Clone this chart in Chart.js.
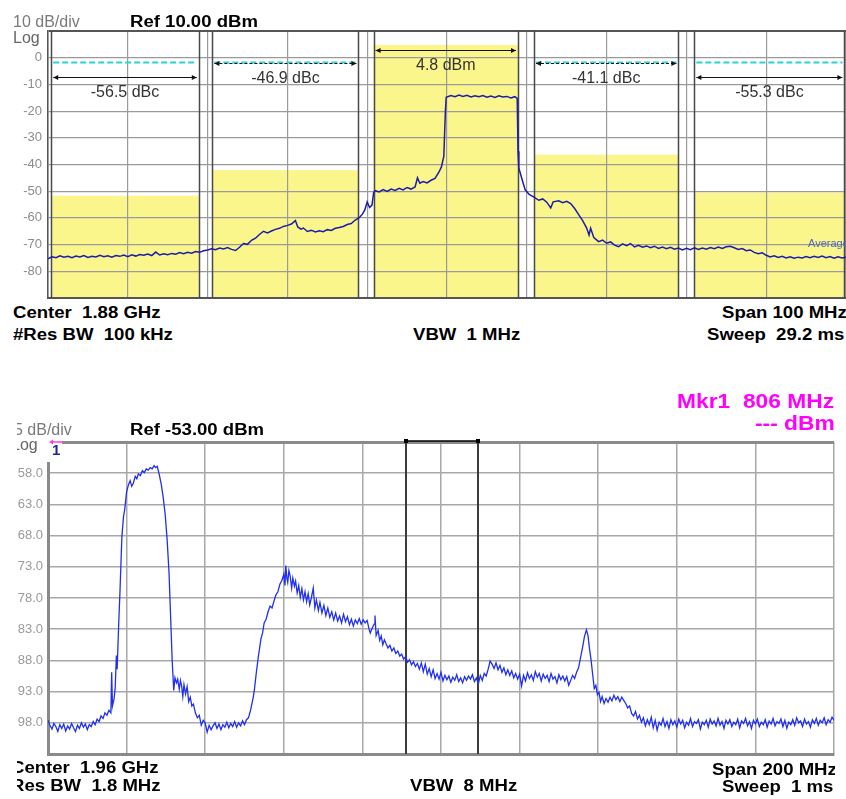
<!DOCTYPE html>
<html>
<head>
<meta charset="utf-8">
<script src="https://cdn.jsdelivr.net/npm/chart.js"></script>
<style>
  body { margin: 0; width: 846px; height: 799px; overflow: hidden; background: #fff; position: relative;
         font-family: "Liberation Sans", Arial, sans-serif; }
  .t { position: absolute; white-space: pre; line-height: 1; }
  .b { font-weight: bold; font-size: 16px; color: #000; transform: scaleX(1.16); transform-origin: left top; }
  .g { font-size: 16px; color: #7a7a7a; }
  .m { font-weight: bold; font-size: 20px; color: #ff00ff; transform: scaleX(1.14); transform-origin: left top; }
  #c1 { position: absolute; left: 0; top: 0; }
  #bot { position: absolute; left: 17px; top: 380px; width: 818px; height: 419px; overflow: hidden; }
  #c2 { position: absolute; left: -17px; top: 0; }
</style>
</head>
<body>
<canvas id="c1" width="846" height="300"></canvas>
<div class="t g" style="left:13px;top:13.5px">10 dB/div</div>
<div class="t b" style="left:130px;top:13.5px">Ref 10.00 dBm</div>
<div class="t g" style="left:13px;top:29.5px;color:#666">Log</div>
<div class="t b" style="left:12.5px;top:304.5px">Center  1.88 GHz</div>
<div class="t b" style="left:12.5px;top:326.5px">#Res BW  100 kHz</div>
<div class="t b" style="left:413px;top:326.5px">VBW  1 MHz</div>
<div class="t b" style="left:722px;top:304.5px">Span 100 MHz</div>
<div class="t b" style="left:707px;top:326.5px">Sweep  29.2 ms</div>

<div id="bot">
  <canvas id="c2" width="846" height="419"></canvas>
  <div class="t m" style="left:660px;top:11px">Mkr1  806 MHz</div>
  <div class="t m" style="left:738px;top:33px">--- dBm</div>
  <div class="t g" style="left:-3px;top:41.5px">5 dB/div</div>
  <div class="t b" style="left:113px;top:41.5px">Ref -53.00 dBm</div>
  <div class="t g" style="left:-6px;top:56.5px;color:#666">Log</div>
  <div class="t b" style="left:-6.5px;top:379.5px">Center  1.96 GHz</div>
  <div class="t b" style="left:-6.5px;top:397.5px">Res BW  1.8 MHz</div>
  <div class="t b" style="left:393px;top:397.5px">VBW  8 MHz</div>
  <div class="t b" style="left:695px;top:381.5px">Span 200 MHz</div>
  <div class="t b" style="left:705px;top:398.5px">Sweep  1 ms</div>
</div>

<script>
// ---- upper trace: ACP measurement, 1830..1930 MHz ----
const topFreq = [
  1830.0, 1830.5, 1831.0, 1831.5, 1832.0, 1832.5, 1833.0, 1833.5, 1834.0, 1834.5,
  1835.0, 1835.5, 1836.0, 1836.5, 1837.0, 1837.5, 1838.0, 1838.5, 1839.0, 1839.5,
  1840.0, 1840.5, 1841.0, 1841.5, 1842.0, 1842.5, 1843.0, 1843.5, 1844.0, 1844.5,
  1845.0, 1845.5, 1846.0, 1846.5, 1847.0, 1847.5, 1848.0, 1848.5, 1849.0, 1849.5,
  1850.0, 1850.5, 1851.0, 1851.5, 1852.0, 1852.5, 1853.0, 1853.5, 1854.0, 1854.5,
  1855.0, 1855.5, 1856.0, 1856.5, 1857.0, 1857.5, 1858.0, 1858.5, 1859.0, 1859.5,
  1860.0, 1860.5, 1861.0, 1861.3, 1861.7, 1862.0, 1862.5, 1863.0, 1863.5, 1864.0,
  1864.5, 1865.0, 1865.5, 1866.0, 1866.5, 1867.0, 1867.5, 1868.0, 1868.5, 1869.0,
  1869.4, 1869.7, 1870.0, 1870.3, 1870.6, 1870.8, 1871.0, 1871.5, 1872.0, 1872.5,
  1873.0, 1873.5, 1874.0, 1874.5, 1875.0, 1875.5, 1876.0, 1876.3, 1876.6, 1877.0,
  1877.5, 1878.0, 1878.5, 1879.0, 1879.3, 1879.6, 1879.8, 1879.9, 1880.5, 1881.0,
  1881.5, 1882.0, 1882.5, 1883.0, 1883.5, 1884.0, 1884.5, 1885.0, 1885.5, 1886.0,
  1886.5, 1887.0, 1887.5, 1888.0, 1888.5, 1888.8, 1888.9, 1889.0, 1889.4, 1889.8,
  1890.3, 1890.9, 1891.5, 1892.0, 1892.5, 1893.0, 1893.3, 1894.0, 1894.5, 1895.0,
  1895.5, 1896.0, 1896.5, 1897.0, 1897.5, 1897.8, 1898.0, 1898.4, 1899.0, 1899.5,
  1900.0, 1900.5, 1901.0, 1901.5, 1902.0, 1902.5, 1903.0, 1903.5, 1904.0, 1904.5,
  1905.0, 1905.5, 1906.0, 1906.5, 1907.0, 1907.5, 1908.0, 1908.5, 1909.0, 1909.5,
  1910.0, 1910.5, 1911.0, 1911.5, 1912.0, 1912.5, 1913.0, 1913.5, 1914.0, 1914.5,
  1915.0, 1915.5, 1916.0, 1916.5, 1917.0, 1917.5, 1918.0, 1918.5, 1919.0, 1919.5,
  1920.0, 1920.5, 1921.0, 1921.5, 1922.0, 1922.5, 1923.0, 1923.5, 1924.0, 1924.5,
  1925.0, 1925.5, 1926.0, 1926.5, 1927.0, 1927.5, 1928.0, 1928.5, 1929.0, 1929.5,
  1930.0
];
const topLevel = [
  -75.3, -74.6, -74.9, -74.2, -74.7, -74.4, -74.9, -74.3, -74.6, -74.1,
  -74.8, -74.4, -74.6, -74.0, -74.5, -74.2, -74.7, -74.1, -74.4, -73.9,
  -74.5, -73.8, -74.3, -73.7, -74.0, -73.5, -74.1, -72.8, -73.9, -73.4,
  -73.8, -73.3, -73.6, -73.0, -73.4, -72.9, -73.2, -72.6, -72.9, -72.3,
  -72.0, -71.6, -71.9, -71.3, -71.6, -71.1, -71.8, -72.2, -71.0, -69.6,
  -69.9, -68.4, -67.6, -66.2, -65.0, -65.6, -64.9, -64.3, -63.9, -63.2,
  -62.8, -62.3, -61.0, -63.4, -64.2, -63.8, -65.1, -64.6, -65.3, -64.8,
  -65.2, -64.4, -64.7, -63.9, -63.6, -63.2, -62.5, -62.1, -60.8, -59.9,
  -58.6, -57.0, -54.0, -56.1, -55.2, -50.6, -49.8, -50.3, -49.4, -50.1,
  -49.2, -49.7, -48.9, -49.5, -48.6, -49.2, -48.4, -45.0, -47.0, -46.4,
  -46.9, -45.9, -45.2, -42.8, -40.9, -37.0, -20.0, -14.8, -14.2, -14.6,
  -14.0, -14.5, -14.1, -14.7, -14.3, -14.6, -14.2, -14.8, -14.4, -14.9,
  -14.3, -14.7, -14.5, -15.1, -14.6, -15.2, -35.0, -41.3, -45.5, -49.5,
  -51.2, -52.2, -53.4, -52.9, -54.1, -56.3, -54.0, -53.6, -54.3, -53.8,
  -54.6, -56.5, -58.8, -61.0, -63.8, -66.4, -63.9, -67.4, -68.9, -68.3,
  -69.5, -69.0, -70.2, -70.8, -69.7, -70.4, -69.6, -70.9, -70.3, -71.0,
  -70.5, -71.2, -70.6, -71.4, -70.9, -71.5, -71.0, -71.7, -71.3, -72.0,
  -71.4, -71.9, -71.2, -71.8, -71.3, -71.7, -71.1, -71.5, -70.9, -71.4,
  -70.8, -70.6, -71.2, -71.8, -71.5, -72.3, -72.0, -72.9, -73.4, -73.1,
  -74.0, -74.6, -74.2, -74.8, -74.4, -75.0, -74.6, -75.1, -74.7, -75.0,
  -74.5, -74.9, -74.4, -74.8, -74.3, -74.9, -74.5, -75.1, -74.6, -75.0,
  -74.7
];

// channels of the ACP measurement (MHz) and their measured powers
const chStart = [1830.4, 1850.6, 1870.8, 1890.9, 1911.0];
const chEnd = [1848.9, 1868.9, 1888.9, 1909.0, 1929.8];
const chLevel = [-51.7, -42.1, 4.8, -36.3, -50.5];
const chLabel = ['-56.5 dBc', '-46.9 dBc', '4.8 dBm', '-41.1 dBc', '-55.3 dBc'];
const arrowLevel = [-7.4, -1.8, 2.9, -1.8, -7.4];
const limitLevel = -1.8;
const topTickLabels = ['0', '-10', '-20', '-30', '-40', '-50', '-60', '-70', '-80'];

// ---- lower trace: 1860..2060 MHz ----
const botFreq = [
  1860.0, 1860.5, 1861.0, 1861.5, 1862.0, 1862.5, 1863.0, 1863.5, 1864.0, 1864.5,
  1865.0, 1865.5, 1866.0, 1866.5, 1867.0, 1867.5, 1868.0, 1868.5, 1869.0, 1869.5,
  1870.0, 1870.5, 1871.0, 1871.5, 1872.0, 1872.5, 1873.0, 1873.5, 1874.0, 1874.5,
  1875.0, 1875.5, 1876.0, 1876.2, 1876.4, 1876.8, 1877.1, 1877.4, 1877.6, 1878.0,
  1878.3, 1878.8, 1879.2, 1879.5, 1880.0, 1880.5, 1880.9, 1881.3, 1881.7, 1882.2,
  1882.6, 1883.0, 1883.5, 1884.0, 1884.5, 1885.0, 1885.5, 1886.0, 1886.5, 1887.0,
  1887.4, 1887.8, 1888.3, 1888.8, 1889.3, 1889.8, 1890.3, 1890.8, 1891.2, 1891.6,
  1892.0, 1892.3, 1892.7, 1893.0, 1893.4, 1893.7, 1894.0, 1894.3, 1894.6, 1895.0,
  1895.4, 1895.8, 1896.2, 1896.6, 1897.0, 1897.5, 1898.0, 1898.5, 1899.0, 1899.5,
  1900.0, 1900.5, 1901.0, 1901.5, 1902.0, 1902.5, 1903.0, 1903.5, 1904.0, 1904.5,
  1905.0, 1905.5, 1906.0, 1906.5, 1907.0, 1907.5, 1908.0, 1908.5, 1909.0, 1909.5,
  1910.0, 1910.5, 1911.0, 1911.5, 1911.8, 1912.2, 1912.5, 1913.0, 1913.5, 1914.2,
  1914.6, 1915.0, 1915.5, 1916.0, 1916.5, 1917.0, 1917.5, 1918.0, 1918.5, 1919.0,
  1919.5, 1920.0, 1920.3, 1920.5, 1920.8, 1921.0, 1921.3, 1921.6, 1922.0, 1922.3,
  1922.7, 1923.0, 1923.4, 1923.8, 1924.2, 1924.6, 1925.0, 1925.4, 1925.8, 1926.2,
  1926.6, 1927.0, 1927.5, 1927.9, 1928.3, 1928.8, 1929.2, 1929.7, 1930.2, 1930.7,
  1931.2, 1931.7, 1932.2, 1932.7, 1933.2, 1933.7, 1934.2, 1934.7, 1935.2, 1935.7,
  1936.2, 1936.7, 1937.2, 1937.7, 1938.2, 1938.7, 1939.2, 1939.7, 1940.2, 1940.7,
  1941.2, 1941.7, 1942.0, 1942.5, 1943.0, 1943.2, 1943.5, 1944.0, 1944.4, 1944.8,
  1945.2, 1945.6, 1946.0, 1946.5, 1947.0, 1947.5, 1948.0, 1948.5, 1949.0, 1949.5,
  1950.0, 1950.5, 1951.0, 1951.5, 1952.0, 1952.5, 1953.0, 1953.5, 1954.0, 1954.5,
  1955.0, 1955.5, 1956.0, 1956.5, 1957.0, 1957.5, 1958.0, 1958.5, 1959.0, 1959.5,
  1960.0, 1960.5, 1961.0, 1961.5, 1962.0, 1962.5, 1963.0, 1963.5, 1964.0, 1964.5,
  1965.0, 1965.5, 1966.0, 1966.5, 1967.0, 1967.5, 1968.0, 1968.5, 1969.0, 1969.5,
  1970.0, 1970.5, 1971.0, 1971.5, 1972.0, 1972.5, 1973.0, 1973.5, 1974.0, 1974.5,
  1975.0, 1975.5, 1976.0, 1976.5, 1977.0, 1977.5, 1978.0, 1978.5, 1979.0, 1979.5,
  1980.0, 1980.5, 1981.0, 1981.5, 1982.0, 1982.5, 1983.0, 1983.5, 1984.0, 1984.5,
  1985.0, 1985.5, 1986.0, 1986.5, 1987.0, 1987.5, 1988.0, 1988.5, 1989.0, 1989.5,
  1990.0, 1990.5, 1991.0, 1991.5, 1992.0, 1992.5, 1993.0, 1993.5, 1994.0, 1994.5,
  1995.0, 1995.5, 1996.0, 1996.5, 1997.0, 1997.4, 1997.8, 1998.2, 1998.6, 1999.0,
  1999.4, 1999.8, 2000.2, 2000.6, 2001.0, 2001.5, 2002.0, 2002.5, 2003.0, 2003.5,
  2004.0, 2004.5, 2005.0, 2005.5, 2006.0, 2006.5, 2007.0, 2007.5, 2008.0, 2008.5,
  2009.0, 2009.5, 2010.0, 2010.5, 2011.0, 2011.5, 2012.0, 2012.5, 2013.0, 2013.5,
  2014.0, 2014.5, 2015.0, 2015.5, 2016.0, 2016.5, 2017.0, 2017.5, 2018.0, 2018.5,
  2019.0, 2019.5, 2020.0, 2020.5, 2021.0, 2021.5, 2022.0, 2022.5, 2023.0, 2023.5,
  2024.0, 2024.5, 2025.0, 2025.5, 2026.0, 2026.5, 2027.0, 2027.5, 2028.0, 2028.5,
  2029.0, 2029.5, 2030.0, 2030.5, 2031.0, 2031.5, 2032.0, 2032.5, 2033.0, 2033.5,
  2034.0, 2034.5, 2035.0, 2035.5, 2036.0, 2036.5, 2037.0, 2037.5, 2038.0, 2038.5,
  2039.0, 2039.5, 2040.0, 2040.5, 2041.0, 2041.5, 2042.0, 2042.5, 2043.0, 2043.5,
  2044.0, 2044.5, 2045.0, 2045.5, 2046.0, 2046.5, 2047.0, 2047.5, 2048.0, 2048.5,
  2049.0, 2049.5, 2050.0, 2050.5, 2051.0, 2051.5, 2052.0, 2052.5, 2053.0, 2053.5,
  2054.0, 2054.5, 2055.0, 2055.5, 2056.0, 2056.5, 2057.0, 2057.5, 2058.0, 2058.5,
  2059.0, 2059.5, 2060.0
];
const botLevel = [
  -97.6, -98.4, -99.0, -98.1, -98.6, -99.4, -98.3, -98.9, -98.2, -99.3,
  -98.5, -99.0, -98.1, -98.8, -99.4, -98.4, -98.9, -98.0, -98.7, -98.2,
  -99.1, -98.3, -98.6, -97.8, -98.3, -97.4, -97.8, -96.9, -97.3, -96.4,
  -96.8, -96.0, -96.4, -89.9, -95.3, -94.2, -92.4, -87.2, -89.4, -82.0,
  -77.2, -68.2, -65.0, -63.9, -61.0, -59.8, -59.2, -60.1, -59.6, -58.5,
  -58.9, -58.1, -58.4, -57.6, -57.9, -57.3, -57.5, -57.1, -57.3, -56.8,
  -57.1, -56.9, -58.2, -59.7, -61.8, -64.5, -68.5, -74.0, -81.0, -88.0,
  -92.8, -90.8, -91.6, -91.0, -92.6, -91.2, -92.1, -93.8, -91.9, -93.4,
  -92.2, -94.6, -93.9, -95.3, -95.0, -96.4, -97.2, -96.8, -98.4, -97.6,
  -98.0, -99.5, -98.4, -99.1, -98.5, -98.0, -98.9, -98.2, -99.1, -98.3,
  -98.7, -97.9, -98.8, -98.1, -98.6, -97.8, -98.7, -98.0, -98.5, -97.7,
  -98.3, -97.5, -97.2, -96.1, -95.2, -94.0, -92.8, -90.0, -87.5, -84.5,
  -83.6, -82.0, -81.4, -80.2, -79.3, -79.6, -78.5, -77.5, -77.0, -75.8,
  -75.2, -74.2, -76.0, -72.8, -74.9, -75.5, -73.6, -74.4, -76.4, -74.8,
  -76.1, -75.3, -77.2, -76.0, -77.9, -76.5, -78.3, -77.0, -78.6, -77.3,
  -79.1, -78.0, -76.4, -79.6, -78.3, -80.0, -78.7, -80.4, -79.2, -80.8,
  -79.6, -81.1, -80.2, -81.5, -80.4, -81.7, -80.9, -82.0, -80.6, -81.8,
  -81.0, -82.3, -81.4, -82.5, -81.5, -82.1, -81.3, -82.2, -81.5, -82.0,
  -81.6, -83.0, -83.6, -82.8, -82.2, -80.8, -84.0, -83.2, -84.8, -84.1,
  -85.5, -84.7, -85.3, -86.0, -85.6, -86.5, -86.0, -86.9, -86.5, -87.3,
  -87.0, -87.8, -87.4, -88.3, -87.9, -88.7, -88.2, -89.0, -88.5, -89.4,
  -88.4, -89.8, -88.6, -90.2, -89.3, -90.6, -89.5, -90.9, -90.1, -91.0,
  -89.9, -91.3, -90.4, -91.1, -90.5, -91.5, -90.7, -91.2, -90.3, -91.4,
  -90.8, -91.6, -90.6, -91.2, -90.5, -91.0, -90.3, -91.4, -90.8, -91.8,
  -90.4, -91.2, -90.1, -90.5, -89.4, -88.1, -88.6, -89.3, -88.4, -89.5,
  -88.8, -89.9, -89.2, -90.3, -89.5, -90.4, -89.7, -90.8, -90.1, -91.0,
  -90.2, -92.1, -90.4, -91.3, -90.0, -90.9, -90.3, -91.2, -89.8, -90.7,
  -90.1, -91.3, -90.2, -90.9, -90.4, -91.4, -90.1, -91.0, -90.6, -91.6,
  -90.3, -91.1, -90.5, -91.3, -90.6, -92.0, -91.2, -90.4, -90.9, -89.9,
  -89.2, -87.6, -86.0, -84.2, -83.1, -84.0, -86.2, -88.0, -90.3, -92.5,
  -92.0, -93.5, -93.1, -94.6, -93.8, -94.9, -94.1, -94.7, -93.9, -94.5,
  -93.6, -94.3, -93.8, -94.6, -93.9, -94.4, -94.9, -95.6, -95.3, -96.5,
  -96.9, -96.2, -97.4, -96.8, -97.9, -97.2, -98.5, -97.5, -98.3, -97.1,
  -98.8, -97.6, -99.2, -97.9, -98.4, -97.3, -98.6, -97.8, -98.9, -97.5,
  -98.3, -97.7, -98.7, -97.4, -98.2, -97.6, -98.8, -97.9, -98.4, -97.3,
  -98.6, -97.8, -98.1, -97.5, -99.0, -97.9, -98.3, -97.6, -98.7, -97.4,
  -98.2, -97.7, -98.5, -97.3, -98.4, -97.8, -98.9, -97.6, -98.2, -97.5,
  -98.6, -97.9, -98.3, -97.4, -98.8, -97.7, -98.1, -97.3, -98.5, -97.8,
  -98.9, -97.6, -98.2, -97.4, -98.6, -97.9, -98.3, -97.5, -98.7, -97.7,
  -98.2, -97.3, -98.5, -97.8, -98.1, -97.4, -98.6, -97.6, -98.9, -97.9,
  -98.3, -97.5, -98.4, -97.2, -98.0, -97.7, -98.6, -97.4, -98.2, -97.8,
  -98.7, -97.5, -98.1, -97.3, -98.4, -97.6, -98.0, -97.2, -98.3, -97.5,
  -97.9, -97.1, -97.6
];
const botTickLabels = ['-58.0', '-63.0', '-68.0', '-73.0', '-78.0', '-83.0', '-88.0', '-93.0', '-98.0'];
// thick marker band lines in the lower plot (MHz)
const bandEdges = [1951.1, 1969.3];

// yellow channel boxes, limit lines, arrows and dBc labels
const acpPlugin = {
  id: 'acp',
  beforeDraw(chart) {
    const { ctx, chartArea, scales: { x, y } } = chart;
    ctx.save();
    ctx.fillStyle = '#fbf68c';
    for (let i = 0; i < chStart.length; i++) {
      const x0 = x.getPixelForValue(chStart[i]);
      const x1 = x.getPixelForValue(chEnd[i]);
      const yt = y.getPixelForValue(chLevel[i]);
      ctx.fillRect(x0, yt, x1 - x0, chartArea.bottom - yt);
    }
    ctx.restore();
  },
  beforeDatasetsDraw(chart) {
    const { ctx, chartArea, scales: { x, y } } = chart;
    ctx.save();
    ctx.strokeStyle = '#4a4a4a';
    ctx.lineWidth = 1.5;
    for (let i = 0; i < chStart.length; i++) {
      [chStart[i], chEnd[i]].forEach(f => {
        const px = Math.round(x.getPixelForValue(f)) + 0.5;
        ctx.beginPath();
        ctx.moveTo(px, chartArea.top);
        ctx.lineTo(px, chartArea.bottom);
        ctx.stroke();
      });
    }
    // cyan dashed limit lines in the offset channels
    ctx.strokeStyle = '#27d3d3';
    ctx.lineWidth = 2;
    ctx.setLineDash([6, 3]);
    const yl = y.getPixelForValue(limitLevel);
    for (let i = 0; i < chStart.length; i++) {
      if (i === 2) continue;
      ctx.beginPath();
      ctx.moveTo(x.getPixelForValue(chStart[i]) + 2, yl);
      ctx.lineTo(x.getPixelForValue(chEnd[i]) - 2, yl);
      ctx.stroke();
    }
    ctx.restore();
  },
  afterDatasetsDraw(chart) {
    const { ctx, chartArea, scales: { x, y } } = chart;
    ctx.save();
    for (let i = 0; i < chStart.length; i++) {
      const x0 = x.getPixelForValue(chStart[i]) + 2;
      const x1 = x.getPixelForValue(chEnd[i]) - 2;
      const ya = Math.round(y.getPixelForValue(arrowLevel[i])) + 0.5;
      ctx.strokeStyle = '#111';
      ctx.fillStyle = '#111';
      ctx.lineWidth = 1.2;
      ctx.setLineDash(arrowLevel[i] === limitLevel ? [3, 2] : []);
      ctx.beginPath();
      ctx.moveTo(x0, ya);
      ctx.lineTo(x1, ya);
      ctx.stroke();
      ctx.setLineDash([]);
      ctx.beginPath();
      ctx.moveTo(x0, ya); ctx.lineTo(x0 + 5, ya - 2.5); ctx.lineTo(x0 + 5, ya + 2.5); ctx.closePath();
      ctx.moveTo(x1, ya); ctx.lineTo(x1 - 5, ya - 2.5); ctx.lineTo(x1 - 5, ya + 2.5); ctx.closePath();
      ctx.fill();
      ctx.fillStyle = '#333';
      ctx.font = '16px "Liberation Sans", Arial, sans-serif';
      ctx.textAlign = 'center';
      ctx.textBaseline = 'middle';
      ctx.fillText(chLabel[i], (x0 + x1) / 2, ya + 15);
    }
    ctx.fillStyle = '#4a64c8';
    ctx.font = '11px "Liberation Sans", Arial, sans-serif';
    ctx.textAlign = 'left';
    ctx.textBaseline = 'alphabetic';
    ctx.fillText('Average', chartArea.right - 38, y.getPixelForValue(-70.8));
    ctx.restore();
  }
};

// band marker lines and marker "1" in the lower plot
const bandPlugin = {
  id: 'band',
  beforeDatasetsDraw(chart) {
    const { ctx, chartArea, scales: { x } } = chart;
    ctx.save();
    ctx.strokeStyle = '#3c3c3c';
    ctx.lineWidth = 2;
    const xs = bandEdges.map(f => Math.round(x.getPixelForValue(f)));
    xs.forEach(px => {
      ctx.beginPath();
      ctx.moveTo(px, chartArea.top);
      ctx.lineTo(px, chartArea.bottom);
      ctx.stroke();
    });
    ctx.strokeStyle = '#000';
    ctx.lineWidth = 1.5;
    ctx.beginPath();
    ctx.moveTo(xs[0], chartArea.top - 1);
    ctx.lineTo(xs[1], chartArea.top - 1);
    ctx.stroke();
    ctx.fillStyle = '#000';
    xs.forEach(px => ctx.fillRect(px - 2, chartArea.top - 3, 4, 4));
    ctx.restore();
  },
  afterDatasetsDraw(chart) {
    const { ctx, chartArea } = chart;
    ctx.save();
    ctx.fillStyle = '#fff';
    ctx.fillRect(chartArea.left - 2, chartArea.top - 2, 16, 22);
    ctx.strokeStyle = '#ff40d0';
    ctx.fillStyle = '#ff40d0';
    ctx.lineWidth = 1.5;
    ctx.beginPath();
    ctx.moveTo(chartArea.left + 3, chartArea.top);
    ctx.lineTo(chartArea.left + 15, chartArea.top);
    ctx.stroke();
    ctx.beginPath();
    ctx.moveTo(chartArea.left + 1, chartArea.top);
    ctx.lineTo(chartArea.left + 5, chartArea.top - 2.5);
    ctx.lineTo(chartArea.left + 5, chartArea.top + 2.5);
    ctx.closePath();
    ctx.fill();
    ctx.fillStyle = '#1a2a9c';
    ctx.font = 'bold 15px "Liberation Sans", Arial, sans-serif';
    ctx.textAlign = 'left';
    ctx.textBaseline = 'alphabetic';
    ctx.fillText('1', chartArea.left + 4, chartArea.top + 13);
    ctx.restore();
  }
};

const tickFont = { family: '"Liberation Sans", Arial, sans-serif', size: 13 };

// fixed axis sizes so the plot frames sit where the analyser drew them
const fixY = s => { s.width = 48; s.paddingTop = 0; s.paddingBottom = 0; };
const fixX = s => { s.height = 0; s.paddingLeft = 0; s.paddingRight = 0; };

new Chart(document.getElementById('c1'), {
  type: 'line',
  data: {
    datasets: [{
      data: topFreq.map((f, i) => ({ x: f, y: topLevel[i] })),
      borderColor: '#1c1ca8',
      borderWidth: 1.5,
      pointRadius: 0,
      tension: 0
    }]
  },
  options: {
    responsive: false,
    animation: false,
    layout: { padding: { top: 31, bottom: 2, left: 0, right: 0 } },
    plugins: { legend: { display: false }, tooltip: { enabled: false } },
    scales: {
      x: {
        type: 'linear', min: 1830, max: 1930,
        ticks: { display: false, stepSize: 10 },
        grid: { color: '#9a9a9a', lineWidth: 1.2, drawTicks: false },
        border: { color: '#555', width: 2 },
        afterFit: fixX
      },
      y: {
        min: -90, max: 10,
        ticks: {
          stepSize: 10, color: '#8c8c8c', font: tickFont, padding: 6,
          callback: v => topTickLabels.includes(String(v)) ? String(v) : ''
        },
        grid: {
          drawTicks: false,
          color: c => c.tick && c.tick.value === 10 ? '#555' : '#9a9a9a',
          lineWidth: c => c.tick && c.tick.value === 10 ? 2 : 1.2
        },
        border: { color: '#555', width: 1.5 },
        afterFit: fixY
      }
    }
  },
  plugins: [acpPlugin]
});

new Chart(document.getElementById('c2'), {
  type: 'line',
  data: {
    datasets: [{
      data: botFreq.map((f, i) => ({ x: f, y: botLevel[i] })),
      borderColor: '#2030ee',
      borderWidth: 1.3,
      pointRadius: 0,
      tension: 0
    }]
  },
  options: {
    responsive: false,
    animation: false,
    layout: { padding: { top: 62, bottom: 45, left: 0, right: 12 } },
    plugins: { legend: { display: false }, tooltip: { enabled: false } },
    scales: {
      x: {
        type: 'linear', min: 1860, max: 2060,
        ticks: { display: false, stepSize: 20 },
        grid: { color: '#a8a8a8', lineWidth: 1.5, drawTicks: false },
        border: { color: '#8a8a8a', width: 3 },
        afterFit: fixX
      },
      y: {
        min: -103, max: -53,
        ticks: {
          stepSize: 5, color: '#9a9a9a', font: tickFont, padding: 5,
          callback: v => {
            const s = Number(v).toFixed(1);
            return botTickLabels.includes(s) ? s : '';
          }
        },
        grid: {
          drawTicks: false,
          color: c => c.tick && c.tick.value === -53 ? '#8a8a8a' : '#a8a8a8',
          lineWidth: c => c.tick && c.tick.value === -53 ? 3 : 1.5
        },
        border: { color: '#8a8a8a', width: 3 },
        afterFit: fixY
      }
    }
  },
  plugins: [bandPlugin]
});
</script>
</body>
</html>
